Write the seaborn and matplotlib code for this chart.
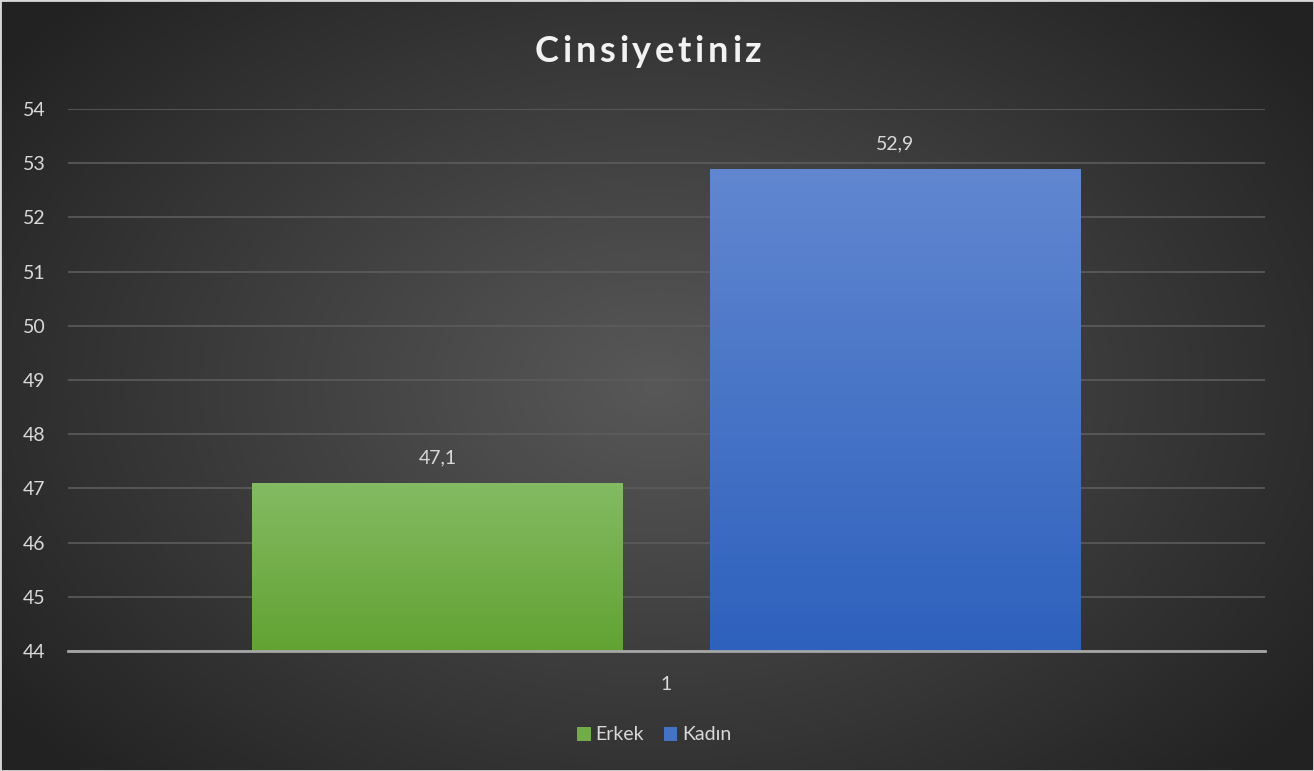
import numpy as np
import pandas as pd
import matplotlib.pyplot as plt
import seaborn as sns
from matplotlib.colors import LinearSegmentedColormap
from matplotlib.patches import Patch

# Veriler
categories = ["1"]
groups = ["Erkek", "Kadın"]
values = [47.1, 52.9]
labels = ["47,1", "52,9"]
yticks = list(range(44, 55))
title = "Cinsiyetiniz"

renkler = {"Erkek": "#70ad47", "Kadın": "#4472c4"}
gradyan = {"Erkek": ("#84bb63", "#62a232"), "Kadın": ("#6187d0", "#2e61bd")}

df = pd.DataFrame({"kategori": categories * 2, "cinsiyet": groups, "yuzde": values})

sns.set_theme(style="dark")
plt.rcParams["font.family"] = ["Lato", "DejaVu Sans"]

fig = plt.figure(figsize=(13.14, 7.71), dpi=100)

# Arka plan (radyal gradyan)
bg = fig.add_axes([0, 0, 1, 1], zorder=0)
yy, xx = np.mgrid[0:771, 0:1314]
r = np.sqrt(((xx - 657) / 820) ** 2 + ((yy - 385) / 560) ** 2)
bg.imshow(r, cmap=LinearSegmentedColormap.from_list("bg", ["#585858", "#222222"]),
          vmin=0, vmax=1, aspect="auto")
bg.axis("off")

ax = fig.add_axes([68 / 1314, 0.1556, 1197 / 1314, 0.703], zorder=1)
ax.patch.set_alpha(0)

sns.barplot(data=df, x="kategori", y="yuzde", hue="cinsiyet", palette=renkler,
            width=0.765, gap=0.19, ax=ax, legend=False, zorder=3, linewidth=0)

ax.set_ylim(44, 54)
ax.set_yticks(yticks)

# Çubuklara dikey gradyan
for bar, g in zip(ax.patches, groups):
    x0 = bar.get_x()
    x1 = x0 + bar.get_width()
    h = bar.get_height()
    cmap = LinearSegmentedColormap.from_list(g, [gradyan[g][1], gradyan[g][0]])
    grad = np.linspace(0, 1, 256).reshape(-1, 1)
    im = ax.imshow(grad, cmap=cmap, aspect="auto", origin="lower",
                   extent=(x0, x1, 44, h), zorder=3.5)
    im.set_clip_path(bar)

for bar, lab in zip(ax.patches, labels):
    ax.text(bar.get_x() + bar.get_width() / 2, bar.get_height() + 0.3, lab,
            ha="center", va="bottom", fontsize=14, color="#d9d9d9", zorder=5)

ax.set_xlim(-0.5, 0.5)
ax.set_ylim(44, 54)

ax.grid(axis="y", color="#5c5c5c", linewidth=1.2, zorder=0)
ax.grid(axis="x", visible=False)
for s in ["top", "right", "left"]:
    ax.spines[s].set_visible(False)
ax.spines["bottom"].set_color("#a6a6a6")
ax.spines["bottom"].set_linewidth(2)
ax.spines["bottom"].set_zorder(6)

ax.tick_params(axis="y", colors="#d9d9d9", labelsize=14, length=0, pad=16)
ax.tick_params(axis="x", colors="#d9d9d9", labelsize=14, length=0, pad=18)
ax.set_xlabel("")
ax.set_ylabel("")

# Başlık: harf aralıklı
renderer = fig.canvas.get_renderer()
harfler = []
for ch in title:
    t = fig.text(0, 0, ch, fontsize=26, fontweight="bold", color="#f2f2f2",
                 va="center", ha="left")
    harfler.append(t)
genislikler = [t.get_window_extent(renderer).width for t in harfler]
aralik = 3.7
x = 535
for t, w in zip(harfler, genislikler):
    t.set_position((x / 1314, 1 - 52 / 771))
    x += w + aralik

handles = [Patch(facecolor=renkler[g], edgecolor="none", label=g) for g in groups]
fig.legend(handles=handles, loc="center", bbox_to_anchor=(0.498, 1 - 735 / 771),
           ncol=2, frameon=False, fontsize=14, labelcolor="#d9d9d9",
           handlelength=0.7, handleheight=0.7, handletextpad=0.25, columnspacing=1.0)

# Dış çerçeve
fig.patches.append(plt.Rectangle((0, 0), 1, 1, transform=fig.transFigure,
                                 fill=False, edgecolor="#d9d9d9", linewidth=2, zorder=10))

fig.savefig("out.png", dpi=100)
